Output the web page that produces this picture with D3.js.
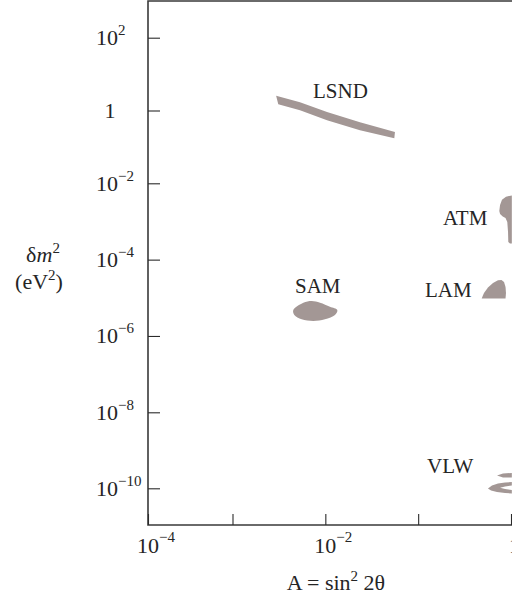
<!DOCTYPE html>
<html>
<head>
<meta charset="utf-8">
<script src="https://cdn.jsdelivr.net/npm/d3@7"></script>
<style>
  body { margin: 0; background: #fff; }
  svg text { font-family: "Liberation Serif", "Times New Roman", serif; fill: #252525; }
</style>
</head>
<body>
<div id="chart"></div>
<script>
// tick exponents (log10) and their labels
var xTickExps = [-4, -3, -2, -1, 0];
var xTickLabels = ["-4", null, "-2", null, "1"];
var yTickExps = [2, 0, -2, -4, -6, -8, -10];
var yTickLabels = ["2", "1", "-2", "-4", "-6", "-8", "-10"];

// allowed regions, outlines as [log10 A, log10 dm2]
var lsnd = [[-2.530, 0.405], [-2.273, 0.225], [-1.982, -0.040], [-1.627, -0.325], [-1.250, -0.590],
            [-1.257, -0.765], [-1.627, -0.540], [-1.982, -0.265], [-2.273, 0.010], [-2.507, 0.175]];
var sam = [[-2.345, -5.319], [-2.237, -5.128], [-2.147, -5.084], [-2.057, -5.128], [-1.950, -5.233],
           [-1.871, -5.319], [-1.896, -5.450], [-2.004, -5.563], [-2.130, -5.608], [-2.255, -5.563], [-2.334, -5.450]];
var atm = [[0.009, -2.320], [-0.054, -2.350], [-0.097, -2.430], [-0.118, -2.569], [-0.126, -2.726],
           [-0.118, -2.804], [-0.089, -2.870], [-0.059, -2.909], [-0.040, -3.014], [-0.032, -3.276],
           [-0.029, -3.538], [-0.011, -3.577], [0.009, -3.577]];
var lam = [[-0.316, -5.018], [-0.291, -4.874], [-0.248, -4.730], [-0.194, -4.612], [-0.140, -4.541],
           [-0.102, -4.533], [-0.075, -4.586], [-0.059, -4.717], [-0.054, -4.874], [-0.059, -5.018]];
var vlwUpper = [[-0.151, -9.663], [-0.086, -9.611], [0.009, -9.597], [0.009, -9.716], [-0.086, -9.716]];
var vlwLower = [[-0.248, -10.005], [-0.205, -9.926], [-0.140, -9.874], [-0.064, -9.847], [0.009, -9.834],
                [0.009, -9.926], [-0.064, -9.953], [-0.118, -9.987], [-0.064, -10.019], [0.009, -10.046],
                [0.009, -10.142], [-0.064, -10.128], [-0.151, -10.101], [-0.215, -10.060]];

var regionNames = ["LSND", "ATM", "LAM", "SAM", "VLW"];

var W = 512, H = 596;
var svg = d3.select("#chart").append("svg")
  .attr("width", W)
  .attr("height", H);

// the printed axes are not quite uniform, so piecewise log scales
var x = d3.scaleLog().domain([1e-4, 1e-3, 1]).range([148, 232.5, 511]);
var y = d3.scaleLog().domain([1e-11, 1e-10, 1e-8, 1e-2, 1e2, 1e3]).range([525, 488.3, 412.3, 183.3, 37.7, 1]);

var plotLeft = 148, plotTop = 1, plotBottom = 525;

// regions
var fill = "#a39795";
var smooth = d3.line()
  .x(function(d) { return x(Math.pow(10, d[0])); })
  .y(function(d) { return y(Math.pow(10, d[1])); })
  .curve(d3.curveCatmullRomClosed.alpha(0.5));
var straight = d3.line()
  .x(function(d) { return x(Math.pow(10, d[0])); })
  .y(function(d) { return y(Math.pow(10, d[1])); })
  .curve(d3.curveLinearClosed);

svg.append("path").attr("d", straight(lsnd)).attr("fill", fill);
svg.append("path").attr("d", smooth(sam)).attr("fill", fill);
svg.append("path").attr("d", straight(atm)).attr("fill", fill);
svg.append("path").attr("d", straight(lam)).attr("fill", fill);
svg.append("path").attr("d", straight(vlwUpper)).attr("fill", fill);
svg.append("path").attr("d", straight(vlwLower)).attr("fill", fill);

// frame
svg.append("path")
  .attr("d", "M" + (W + 10) + "," + plotTop + "H" + plotLeft + "V" + plotBottom + "H" + (W + 10))
  .attr("fill", "none")
  .attr("stroke", "#3a3a3a")
  .attr("stroke-width", 1.6);

// y axis (ticks inward)
var yAxis = d3.axisLeft(y)
  .tickValues(yTickExps.map(function(e) { return Math.pow(10, e); }))
  .tickSize(-12)
  .tickFormat("");
var gy = svg.append("g").attr("transform", "translate(" + plotLeft + ",0)").call(yAxis);
gy.select(".domain").remove();
gy.selectAll(".tick line").attr("stroke", "#2b2b2b").attr("stroke-width", 1.1);

yTickExps.forEach(function(e, i) {
  var ty = y(Math.pow(10, e)) + 7.5;
  if (yTickLabels[i] === "1") {
    svg.append("text").attr("x", 110).attr("y", ty).attr("text-anchor", "middle")
      .attr("font-size", 22).text("1");
  } else {
    var t = svg.append("text").attr("x", 96).attr("y", ty).attr("font-size", 22);
    t.append("tspan").text("10");
    t.append("tspan").attr("dy", -10).attr("font-size", 15).text(yTickLabels[i].replace("-", "\u2212"));
  }
});

// x axis (ticks inward)
var xAxis = d3.axisBottom(x)
  .tickValues(xTickExps.map(function(e) { return Math.pow(10, e); }))
  .tickSize(-11)
  .tickFormat("");
var gx = svg.append("g").attr("transform", "translate(0," + plotBottom + ")").call(xAxis);
gx.select(".domain").remove();
gx.selectAll(".tick line").attr("stroke", "#2b2b2b").attr("stroke-width", 1.1);

xTickExps.forEach(function(e, i) {
  if (xTickLabels[i] == null) return;
  var tx = x(Math.pow(10, e));
  if (xTickLabels[i] === "1") {
    svg.append("text").attr("x", tx - 2).attr("y", 553).attr("font-size", 22).text("1");
  } else {
    var t = svg.append("text").attr("x", tx - 11).attr("y", 553).attr("font-size", 22);
    t.append("tspan").text("10");
    t.append("tspan").attr("dy", -11).attr("font-size", 15).text(xTickLabels[i].replace("-", "\u2212"));
  }
});

// region labels
var labelPos = { LSND: [313, 98], ATM: [443, 225], LAM: [425, 297], SAM: [295, 293], VLW: [427, 473] };
regionNames.forEach(function(n) {
  svg.append("text")
    .attr("x", labelPos[n][0])
    .attr("y", labelPos[n][1])
    .attr("font-size", 21)
    .text(n);
});

// axis titles
var xt = svg.append("text").attr("x", 336).attr("y", 590).attr("text-anchor", "middle").attr("font-size", 22);
xt.append("tspan").text("A = sin");
xt.append("tspan").attr("dy", -9).attr("font-size", 15).text("2");
xt.append("tspan").attr("dy", 9).text(" 2\u03b8");

var yt1 = svg.append("text").attr("x", 43).attr("y", 262).attr("text-anchor", "middle").attr("font-size", 22);
yt1.append("tspan").text("\u03b4");
yt1.append("tspan").attr("font-style", "italic").text("m");
yt1.append("tspan").attr("dy", -9).attr("font-size", 15).text("2");

var yt2 = svg.append("text").attr("x", 39).attr("y", 289).attr("text-anchor", "middle").attr("font-size", 22);
yt2.append("tspan").text("(eV");
yt2.append("tspan").attr("dy", -9).attr("font-size", 15).text("2");
yt2.append("tspan").attr("dy", 9).text(")");
</script>
</body>
</html>
